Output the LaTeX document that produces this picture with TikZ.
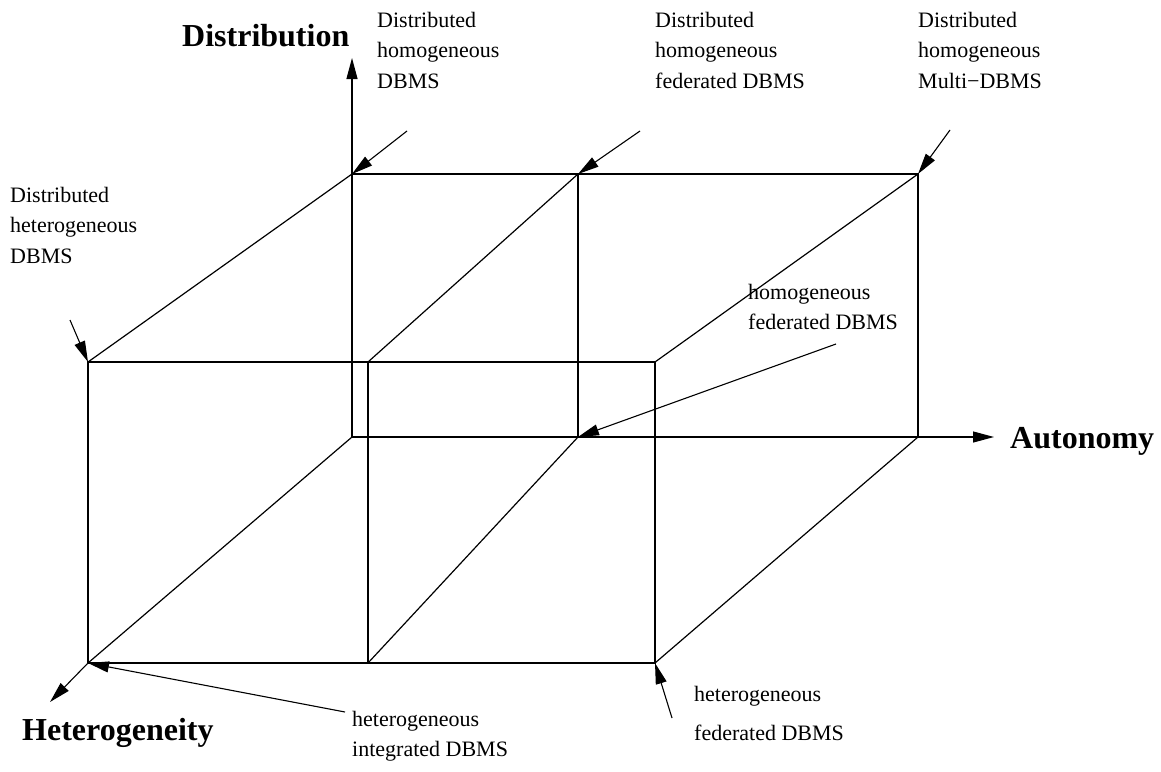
\documentclass[tikz,border=0pt]{standalone}
\usepackage{fontspec}
\setmainfont{Liberation Serif}
\usetikzlibrary{arrows.meta}
\begin{document}
\begin{tikzpicture}[x=1pt,y=-1pt,
  edge/.style={line width=1.2pt},
  pointer/.style={line width=1.1pt,-{Triangle[length=21pt,width=11pt]}},
  lbl/.style={anchor=north west,align=left,inner sep=0pt,
    font=\fontsize{22}{30.5}\selectfont},
  axislbl/.style={anchor=base west,inner sep=0pt,
    font=\fontsize{32}{36}\selectfont\bfseries}]
\useasboundingbox (0,0) rectangle (1161,771);

% corners of the rear face
\coordinate (b1) at (352,174);
\coordinate (b2) at (578,174);
\coordinate (b3) at (918,174);
\coordinate (b4) at (352,437);
\coordinate (b5) at (578,437);
\coordinate (b6) at (918,437);
% corners of the front face
\coordinate (f1) at (88,362);
\coordinate (f2) at (368,362);
\coordinate (f3) at (655,362);
\coordinate (f4) at (88,663);
\coordinate (f5) at (368,663);
\coordinate (f6) at (655,663);
% axis ends
\coordinate (distTip) at (352,58);
\coordinate (autoTip) at (994,437);
\coordinate (hetTip) at (50,702);

% rear face
\draw[edge] (b1) -- (b3) -- (b6) -- (b4);
\draw[edge] (b2) -- (b5);
% front face
\draw[edge] (f1) -- (f3) -- (f6) -- (f4) -- cycle;
\draw[edge] (f2) -- (f5);
% receding edges
\draw[edge] (b1) -- (f1);
\draw[edge] (b2) -- (f2);
\draw[edge] (b3) -- (f3);
\draw[edge] (b4) -- (f4);
\draw[edge] (b5) -- (f5);
\draw[edge] (b6) -- (f6);

% axes
\draw[pointer] (b4) -- (distTip);
\draw[pointer] (b6) -- (autoTip);
\draw[pointer] (f4) -- (hetTip);
\node[axislbl] (distLbl) at (182,46) {Distribution};
\node[axislbl] (autoLbl) at (1010,448) {Autonomy};
\node[axislbl] (hetLbl) at (22,740) {Heterogeneity};

% labels
\node[lbl] (l1) at (377,12) {Distributed\\homogeneous\\DBMS};
\node[lbl] (l2) at (655,12) {Distributed\\homogeneous\\federated DBMS};
\node[lbl] (l3) at (918,12) {Distributed\\homogeneous\\Multi\textminus DBMS};
\node[lbl] (l4) at (10,187) {Distributed\\heterogeneous\\DBMS};
\node[lbl] (l5) at (748,284) {homogeneous\\federated DBMS};
\node[lbl] (l6) at (352,711) {heterogeneous\\integrated DBMS};
\node[lbl] (l7) at (694,686) {heterogeneous\\[9pt]federated DBMS};

% pointer start points
\coordinate (p1) at (407,131);
\coordinate (p2) at (640,131);
\coordinate (p3) at (950,130);
\coordinate (p4) at (70,320);
\coordinate (p5) at (836,344);
\coordinate (p6) at (345,712);
\coordinate (p7) at (672,718);

\draw[pointer] (p1) -- (b1);
\draw[pointer] (p2) -- (b2);
\draw[pointer] (p3) -- (b3);
\draw[pointer] (p4) -- (f1);
\draw[pointer] (p5) -- (b5);
\draw[pointer] (p6) -- (f4);
\draw[pointer] (p7) -- (f6);
\end{tikzpicture}
\end{document}
